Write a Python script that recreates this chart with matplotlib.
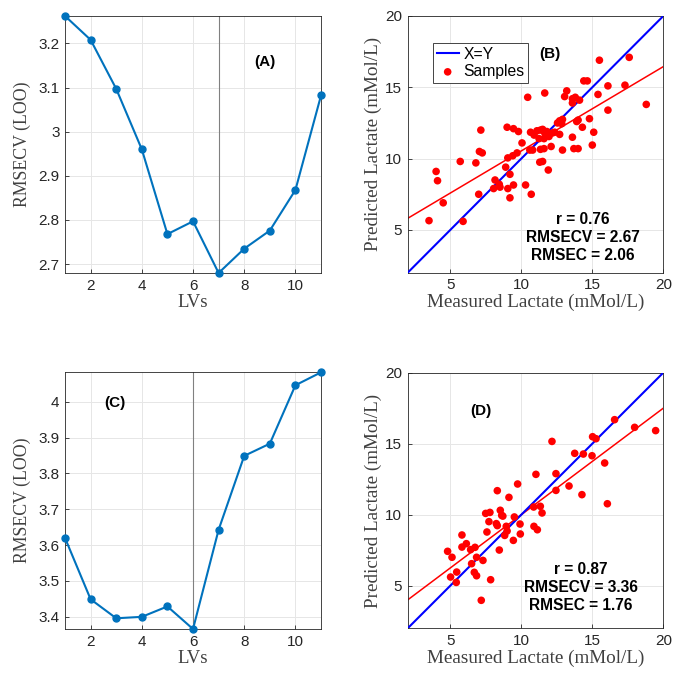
import matplotlib
matplotlib.use("Agg")
import matplotlib.pyplot as plt
import numpy as np

# RMSECV curves vs number of latent variables
lvs = np.arange(1, 12)
rmsecv_a = [3.262, 3.208, 3.097, 2.960, 2.768, 2.797, 2.680, 2.735, 2.776, 2.868, 3.082]
rmsecv_c = [3.620, 3.449, 3.396, 3.400, 3.429, 3.366, 3.643, 3.849, 3.883, 4.046, 4.082]
best_a = 7
best_c = 6

# measured vs predicted lactate (mMol/L)
meas_b = [3.5, 5.9, 4.5, 4.0, 4.1, 5.7, 6.8, 7.0, 7.05, 7.25, 7.15, 8.05, 8.15, 8.45, 8.5,
          8.9, 9.2, 9.05, 9.45, 9.2, 10.3, 10.7, 9.0, 9.45, 9.8, 9.05, 9.4, 9.7, 10.05, 10.45,
          10.65, 10.6, 11.65, 13.2, 13.05, 13.6, 13.8, 14.1, 13.6, 14.4, 14.65, 15.5, 17.6, 16.1,
          17.3, 15.4, 16.1, 18.8, 12.9, 12.7, 12.55, 14.0, 13.9, 14.8, 14.3, 15.1, 13.6, 15.0,
          12.9, 13.7, 14.0, 12.1, 11.1, 11.5, 11.8, 12.2, 11.95, 11.6, 11.25, 10.9, 12.7, 11.3,
          11.5, 11.9, 10.8, 11.35, 11.6, 11.35, 11.65, 12.35, 12.85]
pred_b = [5.65, 5.6, 6.9, 9.1, 8.45, 9.8, 9.7, 7.5, 10.5, 10.4, 12.0, 7.9, 8.5, 8.2, 8.0,
          9.4, 8.9, 7.9, 8.15, 7.25, 8.15, 7.5, 12.2, 12.1, 11.9, 10.05, 10.2, 10.4, 11.1, 14.3,
          11.85, 10.6, 14.6, 14.75, 14.35, 14.2, 14.3, 14.1, 13.9, 15.45, 15.45, 16.9, 17.1, 15.1,
          15.15, 14.5, 13.4, 13.8, 12.75, 12.65, 12.5, 12.7, 12.6, 12.8, 12.2, 11.85, 11.5, 10.95,
          10.6, 10.7, 10.7, 10.85, 11.95, 12.05, 11.9, 11.8, 11.55, 11.4, 11.4, 11.65, 11.7, 9.75,
          9.8, 9.2, 10.6, 10.65, 10.7, 12.0, 11.8, 11.85, 12.45]

meas_d = [16.57, 17.98, 19.46, 15.02, 15.26, 12.16, 13.76, 14.37, 14.98, 15.87, 11.03, 12.44,
          13.36, 12.44, 14.27, 16.06, 9.74, 8.31, 9.13, 10.87, 11.34, 11.46, 10.89, 11.13, 7.49,
          7.79, 8.52, 8.62, 7.72, 8.24, 8.31, 9.51, 8.94, 9.91, 8.83, 9.93, 7.58, 9.44, 8.45,
          5.82, 6.13, 5.82, 6.43, 6.74, 4.81, 5.12, 6.85, 7.3, 6.5, 5.45, 5.02, 5.42, 6.69,
          6.85, 7.84, 7.18, 9.0, 8.7]
pred_d = [16.69, 16.15, 15.92, 15.49, 15.35, 15.16, 14.32, 14.27, 14.15, 13.64, 12.84, 12.89,
          12.02, 11.71, 11.41, 10.77, 12.16, 11.69, 11.22, 10.54, 10.59, 10.12, 9.18, 8.94, 10.09,
          10.16, 10.31, 9.95, 9.51, 9.37, 9.23, 9.84, 9.18, 9.34, 8.54, 8.64, 8.78, 8.19, 7.51,
          8.57, 7.96, 7.72, 7.54, 7.7, 7.42, 7.0, 7.0, 6.78, 6.55, 5.96, 5.61, 5.23, 5.94,
          5.7, 5.42, 3.97, 8.85, 9.9]

# regression lines (slope, intercept)
fit_b = (0.591, 4.63)
fit_d = (0.75, 2.5)
stats_b = "r = 0.76\nRMSECV = 2.67\nRMSEC = 2.06"
stats_d = "r = 0.87\nRMSECV = 3.36\nRMSEC = 1.76"

sans = ["Liberation Sans", "DejaVu Sans"]
serif = ["Liberation Serif", "DejaVu Serif"]
plt.rcParams["font.family"] = sans
ink = "#262626"
mblue = "#0072BD"


def style(ax):
    ax.grid(True, color="#e6e6e6", lw=0.7)
    ax.set_axisbelow(True)
    for s in ax.spines.values():
        s.set_color(ink)
        s.set_linewidth(0.6)
    ax.tick_params(direction="in", length=3, width=0.6, colors=ink, labelsize=11, pad=4)


fig = plt.figure(figsize=(6.73, 6.75), dpi=100)
ax_a = fig.add_axes([0.0966, 0.5956, 0.3804, 0.3807])
ax_b = fig.add_axes([0.6058, 0.596, 0.3798, 0.3803])
ax_c = fig.add_axes([0.0966, 0.0681, 0.3804, 0.3803])
ax_d = fig.add_axes([0.6058, 0.0692, 0.3798, 0.3787])

for ax, vals, best, lab, lpos in [(ax_a, rmsecv_a, best_a, "(A)", (8.8, 3.158)),
                                  (ax_c, rmsecv_c, best_c, "(C)", (2.95, 3.996))]:
    style(ax)
    ax.axvline(best, color="#808080", lw=0.8, zorder=1)
    ax.plot(lvs, vals, "-o", color=mblue, lw=1.5, ms=5, zorder=3, clip_on=False)
    ax.set_xlim(1, 11)
    ax.set_ylim(min(vals), max(vals))
    ax.set_xticks([2, 4, 6, 8, 10])
    ax.set_xlabel("LVs", family=serif, fontsize=13.5, color="#404040", labelpad=1)
    ax.set_ylabel("RMSECV (LOO)", family=serif, fontsize=12.8, color="#404040", labelpad=5)
    ax.text(lpos[0], lpos[1], lab, fontsize=11, fontweight="bold", ha="center", va="center")

ax_a.set_yticks([2.7, 2.8, 2.9, 3.0, 3.1, 3.2])
ax_a.set_yticklabels(["2.7", "2.8", "2.9", "3", "3.1", "3.2"])
ax_c.set_yticks([3.4, 3.5, 3.6, 3.7, 3.8, 3.9, 4.0])
ax_c.set_yticklabels(["3.4", "3.5", "3.6", "3.7", "3.8", "3.9", "4"])

for ax, mx, py, fit, stats, lab, lpos, spos in [
        (ax_b, meas_b, pred_b, fit_b, stats_b, "(B)", (12.0, 17.33), (14.35, 4.5)),
        (ax_d, meas_d, pred_d, fit_d, stats_d, "(D)", (7.16, 17.33), (14.2, 4.84))]:
    style(ax)
    xs = np.array([2, 20])
    ax.plot(xs, xs, color="#0000FF", lw=1.5, label="X=Y", zorder=3)
    ax.scatter(mx, py, s=30, color="#FF0000", edgecolors="none", label="Samples", zorder=4)
    ax.plot(xs, fit[0] * xs + fit[1], color="#FF0000", lw=1.1, zorder=2)
    ax.set_xlim(2, 20)
    ax.set_ylim(2, 20)
    ax.set_xticks([5, 10, 15, 20])
    ax.set_yticks([5, 10, 15, 20])
    ax.set_xlabel("Measured Lactate (mMol/L)", family=serif, fontsize=13.8, color="#404040", labelpad=1)
    ax.set_ylabel("Predicted Lactate (mMol/L)", family=serif, fontsize=13.8, color="#404040", labelpad=2)
    ax.text(lpos[0], lpos[1], lab, fontsize=11, fontweight="bold", ha="center", va="center")
    ax.text(spos[0], spos[1], stats, fontsize=11.2, fontweight="bold", ha="center", va="center",
            linespacing=1.25)

handles, labels = ax_b.get_legend_handles_labels()
leg = ax_b.legend(handles, labels, loc="upper left", bbox_to_anchor=(0.098, 0.896),
                  borderaxespad=0, fancybox=False, framealpha=1, edgecolor="#262626",
                  fontsize=11.3, handlelength=1.4, borderpad=0.25, labelspacing=0.15,
                  handletextpad=0.3)
leg.get_frame().set_linewidth(0.6)

fig.savefig("out.png", dpi=100)
